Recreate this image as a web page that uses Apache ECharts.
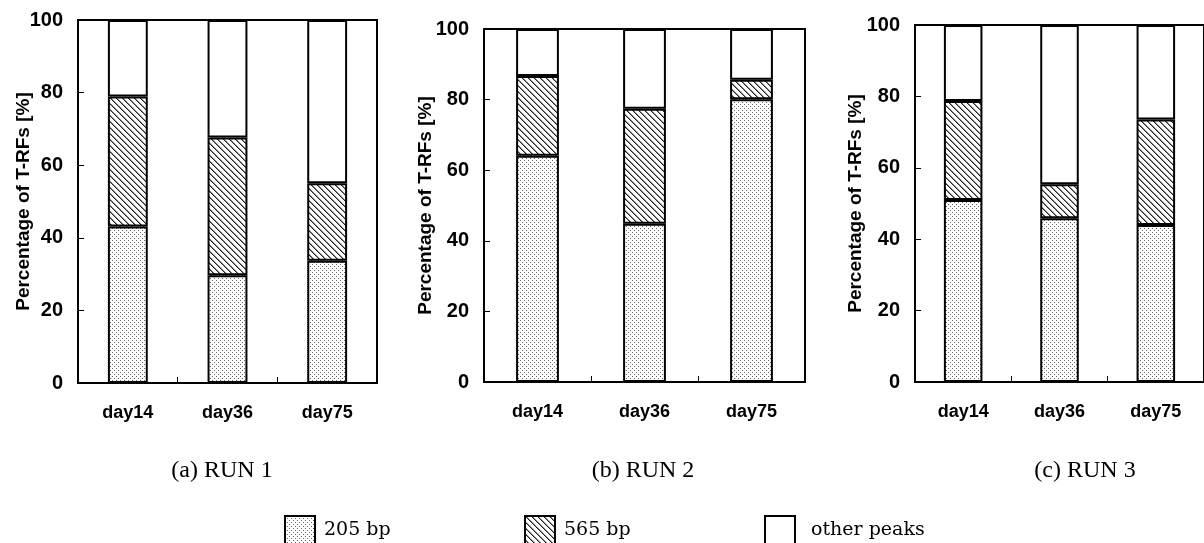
<!DOCTYPE html>
<html>
<head>
<meta charset="utf-8">
<script src="https://cdn.jsdelivr.net/npm/echarts@6/dist/echarts.min.js"></script>
<style>
html,body{margin:0;padding:0;background:#fff;}
#chart{width:1204px;height:543px;}
</style>
</head>
<body>
<div id="chart"></div>
<script>
// ---- data ----
const categories = ['day14', 'day36', 'day75'];
const yTickMin = 0, yTickMax = 100, yTickStep = 20;
const seriesNames = ['205 bp', '565 bp', 'other peaks'];
const panelTitles = ['(a) RUN 1', '(b) RUN 2', '(c) RUN 3'];
const yAxisTitle = 'Percentage of T-RFs [%]';

// segment values (percent) per run
const run1_205 = [43.1, 29.7, 33.7];
const run1_565 = [35.8, 37.9, 21.3];
const run1_other = [21.1, 32.4, 45.0];

const run2_205 = [64.1, 44.8, 80.1];
const run2_565 = [22.6, 32.6, 5.5];
const run2_other = [13.3, 22.6, 14.4];

const run3_205 = [51.0, 45.9, 44.0];
const run3_565 = [27.7, 9.5, 29.5];
const run3_other = [21.3, 44.6, 26.5];

const runs = [
  [run1_205, run1_565, run1_other],
  [run2_205, run2_565, run2_other],
  [run3_205, run3_565, run3_other]
];

// ---- patterns ----
function dotPattern() {
  const c = document.createElement('canvas');
  c.width = 4; c.height = 4;
  const g = c.getContext('2d');
  g.fillStyle = '#fff'; g.fillRect(0, 0, 4, 4);
  g.fillStyle = '#666';
  g.fillRect(0, 0, 1, 1);
  g.fillRect(2, 2, 1, 1);
  return c;
}
function hatchPattern() {
  const s = 6;
  const c = document.createElement('canvas');
  c.width = s; c.height = s;
  const g = c.getContext('2d');
  g.fillStyle = '#fff'; g.fillRect(0, 0, s, s);
  for (let i = 0; i < s; i++) {
    g.fillStyle = '#222';
    g.fillRect(i, i, 1, 1);
    g.fillStyle = '#888';
    g.fillRect((i + 1) % s, i, 1, 1);
  }
  return c;
}
const fills = [
  { image: dotPattern(), repeat: 'repeat' },
  { image: hatchPattern(), repeat: 'repeat' },
  '#ffffff'
];

// ---- layout ----
const grids = [
  { left: 78, top: 20, width: 299, height: 363 },
  { left: 484, top: 29, width: 321, height: 353 },
  { left: 915, top: 25, width: 298, height: 357 }
];
const nameGaps = [45, 49, 50];
const titleCenters = [222, 643, 1085];
const legendLefts = [284, 524, 764];
const legendTextPad = [4, 4, 11];

const sansBold = { fontFamily: 'Liberation Sans', fontWeight: 'bold', color: '#000' };

const option = {
  animation: false,
  backgroundColor: '#fff',
  grid: grids.map(g => Object.assign({ show: true, borderColor: '#000', borderWidth: 2, backgroundColor: 'transparent', containLabel: false }, g)),
  xAxis: grids.map((g, i) => ({
    type: 'category',
    gridIndex: i,
    data: categories,
    boundaryGap: true,
    axisLine: { show: true, lineStyle: { color: '#000', width: 2 } },
    axisTick: { show: true, inside: true, length: 6, lineStyle: { color: '#000', width: 1 } },
    axisLabel: Object.assign({ fontSize: 18, margin: 21 }, sansBold),
    splitLine: { show: false }
  })),
  yAxis: grids.map((g, i) => ({
    type: 'value',
    gridIndex: i,
    min: yTickMin, max: yTickMax, interval: yTickStep,
    name: yAxisTitle,
    nameLocation: 'middle',
    nameGap: nameGaps[i],
    nameMoveOverlap: false,
    nameTextStyle: Object.assign({ fontSize: 19 }, sansBold),
    axisLine: { show: true, lineStyle: { color: '#000', width: 2 } },
    axisTick: { show: true, inside: true, length: 6, lineStyle: { color: '#000', width: 1 } },
    axisLabel: Object.assign({ fontSize: 20, margin: 15 }, sansBold),
    splitLine: { show: false }
  })),
  legend: seriesNames.map((n, k) => ({
    data: [n],
    left: legendLefts[k],
    top: 515,
    icon: 'rect',
    itemWidth: 30,
    itemHeight: 28,
    padding: 0,
    selectedMode: false,
    itemStyle: { borderColor: '#000', borderWidth: 2 },
    textStyle: { fontFamily: 'DejaVu Serif', fontSize: 19, color: '#000', padding: [4, 0, 0, legendTextPad[k]] }
  })),
  series: [],
  graphic: panelTitles.map((t, i) => ({
    type: 'text',
    x: titleCenters[i],
    y: 471,
    style: {
      text: t,
      fontFamily: 'Liberation Serif',
      fontSize: 24,
      fill: '#000',
      textAlign: 'center',
      textVerticalAlign: 'middle'
    }
  }))
};

runs.forEach((run, i) => {
  run.forEach((vals, k) => {
    option.series.push({
      type: 'bar',
      name: seriesNames[k],
      xAxisIndex: i,
      yAxisIndex: i,
      stack: 'run' + i,
      barWidth: '40%',
      data: vals,
      itemStyle: { color: fills[k], borderColor: '#000', borderWidth: 2 },
      emphasis: { disabled: true }
    });
  });
});

const chart = echarts.init(document.getElementById('chart'), null, { renderer: 'canvas' });
chart.setOption(option);
</script>
</body>
</html>
